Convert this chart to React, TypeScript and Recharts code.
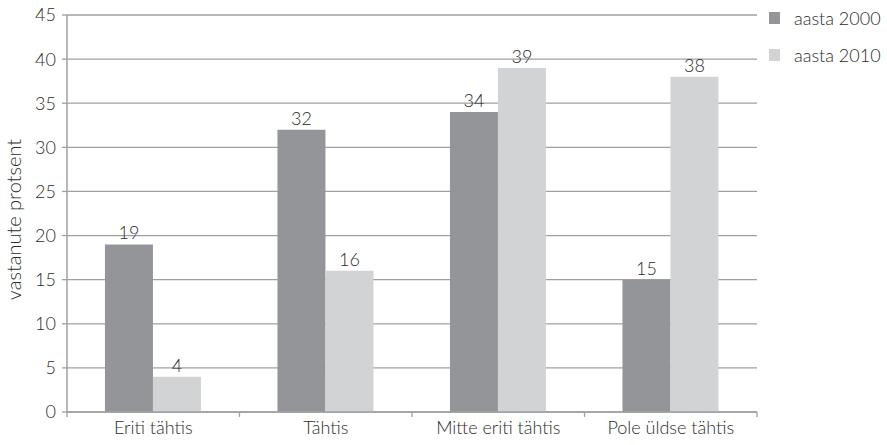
import { BarChart, Bar, XAxis, YAxis, CartesianGrid, LabelList } from 'recharts';

const categories = ['Eriti tähtis', 'Tähtis', 'Mitte eriti tähtis', 'Pole üldse tähtis'];
const aasta2000 = [19, 32, 34, 15];
const aasta2010 = [4, 16, 39, 38];
const yTicks = [0, 5, 10, 15, 20, 25, 30, 35, 40, 45];

const DARK = '#939598';
const LIGHT = '#d1d3d4';
const AXIS = '#a0a0a2';
const TEXT = '#2b2b2b';
const FONT = 'Lato, "Open Sans", sans-serif';
const WEIGHT = 300;

const data = categories.map((name, i) => ({
  name,
  a2000: aasta2000[i],
  a2010: aasta2010[i],
}));

const series = [
  { key: 'a2000', label: 'aasta 2000', color: DARK },
  { key: 'a2010', label: 'aasta 2010', color: LIGHT },
];

// category label plus the little tick marks between categories
function CategoryTick(props: any) {
  const { x, y, payload, index } = props;
  const half = payload?.offset ?? 0;
  const last = index === categories.length - 1;
  return (
    <g>
      <line x1={x - half} x2={x - half} y1={y} y2={y + 5} stroke={AXIS} strokeWidth={1.3} />
      {last && <line x1={x + half} x2={x + half} y1={y} y2={y + 5} stroke={AXIS} strokeWidth={1.3} />}
      <text x={x} y={y} dy={22} textAnchor="middle" fill={TEXT} fontSize={18} fontFamily={FONT} fontWeight={WEIGHT}>
        {payload.value}
      </text>
    </g>
  );
}

function LegendBox() {
  return (
    <div
      style={{
        position: 'absolute',
        left: 769,
        top: -1,
        fontFamily: FONT,
        fontWeight: WEIGHT,
        fontSize: 18,
        color: TEXT,
      }}
    >
      {series.map((s) => (
        <div key={s.key} style={{ display: 'flex', alignItems: 'center', height: 37 }}>
          <span style={{ width: 11, height: 12, background: s.color, display: 'inline-block', marginRight: 14 }} />
          <span>{s.label}</span>
        </div>
      ))}
    </div>
  );
}

export default function App() {
  return (
    <div style={{ position: 'absolute', left: 0, top: 0, width: 887, height: 445, background: '#fff' }}>
      <BarChart
        width={887}
        height={445}
        data={data}
        margin={{ top: 15, right: 130, bottom: 0, left: 0 }}
        barCategoryGap="22%"
        barGap={0}
      >
        <CartesianGrid vertical={false} stroke={AXIS} strokeWidth={1.3} />
        <XAxis
          dataKey="name"
          height={33}
          tickLine={false}
          tickSize={0}
          tickMargin={0}
          axisLine={{ stroke: AXIS, strokeWidth: 1.5 }}
          tick={<CategoryTick />}
          interval={0}
        />
        <YAxis
          domain={[0, 45]}
          ticks={yTicks}
          width={67}
          tickSize={5}
          tickLine={{ stroke: AXIS, strokeWidth: 1.3 }}
          axisLine={{ stroke: AXIS, strokeWidth: 1.5 }}
          tick={{ fill: TEXT, fontSize: 18, fontFamily: FONT, fontWeight: WEIGHT }}
          tickMargin={6}
          label={{
            value: 'vastanute protsent',
            angle: -90,
            position: 'insideLeft',
            dx: 9,
            dy: 6,
            style: { textAnchor: 'middle', fill: TEXT, fontSize: 20, fontFamily: FONT, fontWeight: WEIGHT },
          }}
        />
        <YAxis
          yAxisId="r"
          orientation="right"
          domain={[0, 45]}
          width={0}
          tick={false}
          tickLine={false}
          axisLine={{ stroke: AXIS, strokeWidth: 1.5 }}
        />
        {series.map((s) => (
          <Bar key={s.key} dataKey={s.key} name={s.label} fill={s.color} isAnimationActive={false}>
            <LabelList
              dataKey={s.key}
              position="top"
              offset={5}
              fill={TEXT}
              fontSize={18}
              fontFamily={FONT}
              fontWeight={WEIGHT}
            />
          </Bar>
        ))}
      </BarChart>
      <LegendBox />
    </div>
  );
}
